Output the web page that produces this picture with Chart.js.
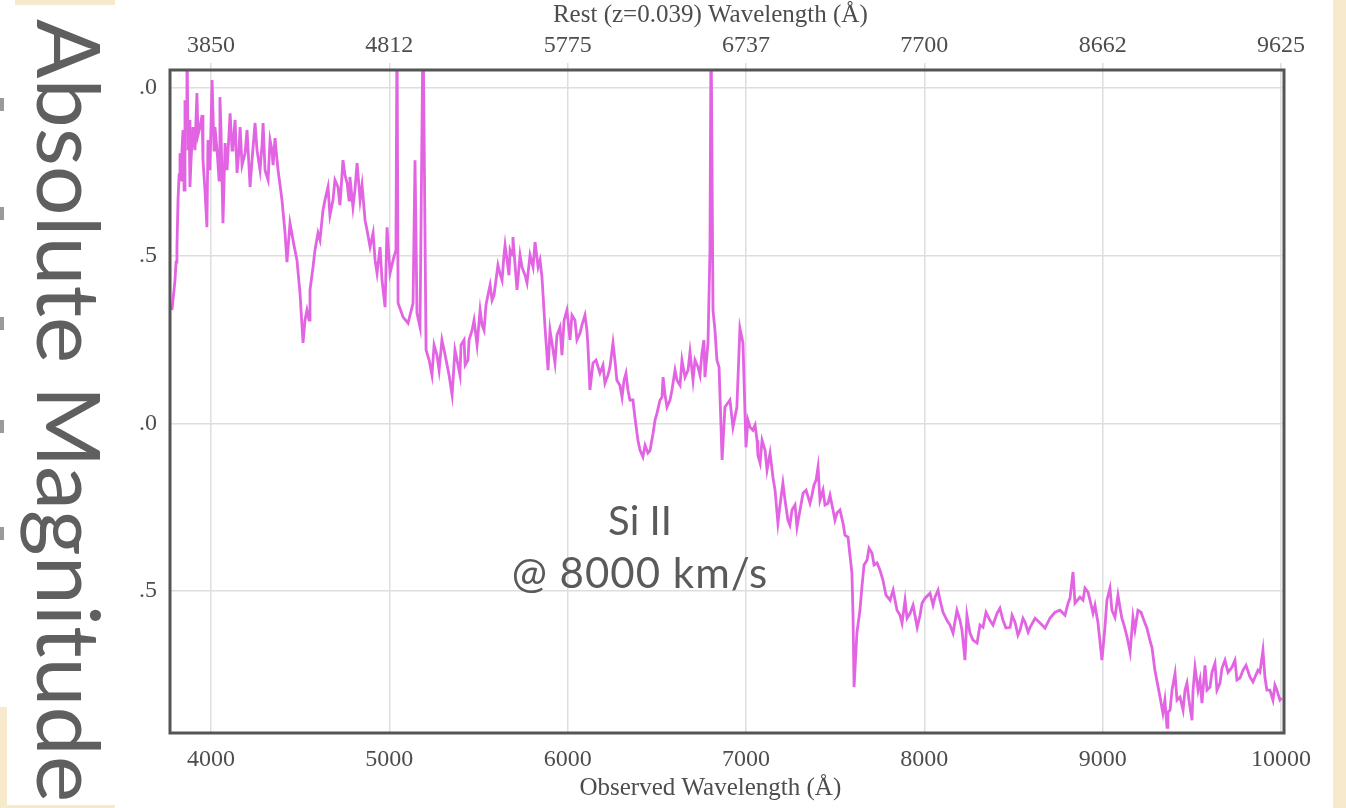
<!DOCTYPE html>
<html>
<head>
<meta charset="utf-8">
<script src="https://cdn.jsdelivr.net/npm/chart.js@4.4.1/dist/chart.umd.min.js"></script>
<style>
  html, body { margin: 0; padding: 0; }
  body { width: 1346px; height: 808px; background: #f6e9cc; position: relative; overflow: hidden; }
  .paper { position: absolute; background: #ffffff; }
  #chartWrap { position: absolute; left: 0; top: 0; width: 1346px; height: 808px; }
  .nick { position: absolute; left: 0; width: 4px; height: 13px; background: #9a9a9a; }
  .note { position: absolute; font-family: Lato, "Open Sans", sans-serif; color: #5a5a5a; white-space: nowrap; }
  #yTitle { left: 0; top: 0; font-size: 88px; line-height: 1; transform-origin: 0 0; transform: translate(115px, 19px) rotate(90deg); color: #5f5f5f; }
</style>
</head>
<body>
<div class="paper" style="left:115px; top:0; width:1218px; height:808px;"></div>
<div class="paper" style="left:0; top:0; width:15px; height:707px;"></div>
<div class="nick" style="top:98px"></div>
<div class="nick" style="top:207px"></div>
<div class="nick" style="top:317px"></div>
<div class="nick" style="top:420px"></div>
<div class="nick" style="top:527px"></div>
<div id="chartWrap"><canvas id="spec" width="1346" height="808"></canvas></div>
<div class="paper" style="left:7px; top:5px; width:131px; height:800px;"></div>
<div class="note" id="yTitle">Absolute Magnitude</div>
<div class="note" style="left:540px; top:496px; width:200px; text-align:center; font-size:40px;">Si II</div>
<div class="note" style="left:490px; top:547px; width:300px; text-align:center; font-size:42px; letter-spacing:1px;">@ 8000 km/s</div>
<script>
// Observed wavelength (Å) of the main spectrum trace
const wavelength = [
  3781, 3798, 3809, 3815, 3826, 3832, 3843, 3854, 3865, 3871,
  3882, 3899, 3921, 3938, 3955, 3977, 3994, 4006, 4022, 4034,
  4050, 4067, 4079, 4107, 4123, 4146, 4163, 4191, 4219, 4247,
  4275, 4292, 4320, 4342, 4359, 4376, 4398, 4415, 4426, 4443,
  4465, 4482, 4499, 4516, 4527, 4538, 4555, 4572, 4600, 4628,
  4656, 4684, 4712, 4740, 4763, 4779, 4796, 4819, 4836, 4864,
  4892, 4909, 4931, 4948, 4976, 4987, 5004, 5021, 5037, 5043,
  5049, 5077, 5105, 5133, 5144, 5155, 5172, 5189, 5206, 5223,
  5251, 5279, 5307, 5335, 5352, 5374, 5402, 5425, 5447, 5475,
  5492, 5509, 5531, 5553, 5576, 5598, 5620, 5643, 5660, 5677,
  5693, 5716, 5744, 5772, 5806, 5817, 5834, 5856, 5873, 5890,
  5912, 5929, 5957, 5980, 5996, 6013, 6041, 6069, 6097, 6114,
  6125, 6142, 6181, 6209, 6237, 6254, 6276, 6305, 6327, 6349,
  6377, 6394, 6422, 6450, 6479, 6501, 6518, 6529, 6535, 6557,
  6585, 6613, 6641, 6658, 6686, 6703, 6731, 6753, 6770, 6787,
  6798, 6804, 6815, 6826, 6837, 6849, 6866, 6882, 6910, 6927,
  6949, 6966, 6983, 7000, 7023, 7039, 7062, 7079, 7107, 7135,
  7151, 7179, 7207, 7235, 7258, 7286, 7320, 7359, 7381, 7404,
  7415, 7460, 7488, 7510, 7544, 7572, 7594, 7600, 7606, 7622,
  7650, 7679, 7707, 7735, 7768, 7808, 7847, 7875, 7892, 7920,
  7960, 7987, 8032, 8060, 8088, 8127, 8161, 8200, 8228, 8256,
  8296, 8329, 8368, 8408, 8441, 8481, 8509, 8537, 8565, 8593,
  8649, 8705, 8761, 8806, 8834, 8845, 8873, 8901, 8929, 8946,
  8974, 8996, 9013, 9041, 9069, 9097, 9120, 9137, 9154, 9170,
  9198, 9237, 9265, 9293, 9322, 9338, 9361, 9378, 9406, 9434,
  9451, 9473, 9501, 9518, 9535, 9557, 9574, 9602, 9630, 9658,
  9686, 9725, 9753, 9787, 9826, 9871, 9899, 9910, 9938, 9955,
  9977, 10005
];

// Relative flux of the main trace
const flux = [
  1.338, 1.427, 1.526, 1.666, 1.806, 1.726, 1.875, 1.964, 2.200, 1.815,
  1.705, 1.884, 1.985, 1.884, 1.785, 1.585, 1.755, 2.024, 1.884, 1.815,
  1.973, 1.597, 1.836, 1.925, 1.824, 1.747, 1.884, 1.806, 1.705, 1.896,
  1.755, 1.896, 1.726, 1.815, 1.851, 1.755, 1.666, 1.568, 1.481, 1.597,
  1.532, 1.487, 1.389, 1.240, 1.308, 1.338, 1.398, 1.466, 1.568, 1.636,
  1.705, 1.666, 1.705, 1.785, 1.717, 1.735, 1.645, 1.776, 1.666, 1.606,
  1.526, 1.568, 1.448, 1.526, 1.347, 1.585, 1.448, 1.487, 1.517, 2.200,
  1.359, 1.317, 1.299, 1.359, 1.785, 1.329, 1.287, 2.200, 1.219, 1.189,
  1.234, 1.159, 1.219, 1.144, 1.085, 1.204, 1.234, 1.174, 1.249, 1.308,
  1.234, 1.338, 1.278, 1.383, 1.368, 1.427, 1.448, 1.502, 1.487, 1.517,
  1.556, 1.398, 1.466, 1.419, 1.466, 1.541, 1.466, 1.436, 1.287, 1.159,
  1.240, 1.180, 1.287, 1.308, 1.338, 1.249, 1.308, 1.269, 1.323, 1.228,
  1.100, 1.180, 1.150, 1.120, 1.168, 1.240, 1.129, 1.078, 1.150, 1.070,
  1.019, 0.950, 0.900, 0.912, 0.971, 1.031, 1.070, 1.078, 1.138, 1.049,
  1.100, 1.129, 1.189, 1.138, 1.213, 1.129, 1.168, 1.210, 1.138, 1.240,
  1.517, 2.200, 1.338, 1.278, 1.189, 1.168, 0.891, 1.049, 1.070, 0.989,
  1.049, 1.284, 1.240, 0.929, 0.989, 0.980, 0.950, 0.882, 0.920, 0.912,
  0.840, 0.703, 0.822, 0.712, 0.742, 0.691, 0.792, 0.762, 0.816, 0.870,
  0.771, 0.762, 0.742, 0.733, 0.703, 0.661, 0.554, 0.434, 0.214, 0.375,
  0.512, 0.593, 0.613, 0.584, 0.533, 0.473, 0.443, 0.405, 0.473, 0.434,
  0.392, 0.464, 0.494, 0.482, 0.473, 0.413, 0.375, 0.413, 0.294, 0.375,
  0.345, 0.392, 0.413, 0.434, 0.413, 0.392, 0.407, 0.384, 0.407, 0.392,
  0.405, 0.420, 0.443, 0.464, 0.557, 0.464, 0.482, 0.509, 0.473, 0.434,
  0.405, 0.294, 0.392, 0.509, 0.422, 0.452, 0.399, 0.363, 0.318, 0.422,
  0.443, 0.405, 0.354, 0.264, 0.184, 0.136, 0.094, 0.145, 0.255, 0.184,
  0.145, 0.226, 0.115, 0.273, 0.205, 0.166, 0.279, 0.214, 0.285, 0.226,
  0.294, 0.273, 0.235, 0.264, 0.244, 0.264, 0.324, 0.244, 0.205, 0.175,
  0.205, 0.181
];

// Additional in-between samples (Å) of the noisy spectrum
const wavelengthFine = [
  3804, 3821, 3837, 3849, 3860, 3877, 3888, 3910, 3927, 3950,
  3966, 3983, 4017, 4045, 4056, 4090, 4118, 4135, 4157, 4174,
  4202, 4230, 4258, 4286, 4303, 4331, 4348, 4365, 4387,
  4550, 4583, 4611, 4639, 4667, 4695, 4723, 4751, 4774, 4807,
  4847, 4875, 4920, 4959,
  5239, 5267, 5295, 5324, 5368, 5396, 5419, 5441, 5464, 5520,
  5542, 5565, 5587, 5609,
  5632, 5649, 5671, 5688, 5705, 5733, 5761, 5789, 5845, 5901,
  5940, 5968,
  6024, 6052, 6080, 6108, 6159, 6198, 6226, 6265, 6293, 6316,
  6338, 6366, 6406, 6434, 6462, 6490, 6546, 6574, 6602, 6630,
  6675, 6714, 6742, 6764, 6776,
  7011, 7051, 7067, 7090, 7118, 7163, 7191, 7219, 7246, 7275,
  7303, 7337, 7370, 7393, 7432, 7443, 7471, 7499, 7527, 7555,
  7639, 7662, 7690, 7718, 7751, 7785, 7825, 7864, 7903, 7937,
  7976, 8004, 8049, 8077, 8105, 8144, 8183, 8211, 8239, 8273,
  8312, 8346, 8385, 8424, 8458, 8492, 8525, 8553, 8582, 8621,
  8677, 8733, 8789, 8817, 8890, 8918, 8957,
  9024, 9052, 9086, 9108, 9181, 9215, 9248, 9277,
  9349, 9366, 9389, 9417, 9462, 9484, 9507, 9546, 9585, 9613,
  9641, 9669, 9703, 9742, 9770, 9804, 9843, 9882, 9921, 9966,
  9994
];

const fluxFine = [
  1.481, 1.741, 1.815, 1.696, 1.934, 1.905, 1.785, 1.815, 1.860, 1.920,
  1.696, 1.845, 1.815, 1.726, 1.875, 1.755, 1.815, 1.905, 1.815, 1.770,
  1.875, 1.785, 1.815, 1.830, 1.755, 1.845, 1.770, 1.815, 1.711,
  1.308, 1.517, 1.547, 1.666, 1.621, 1.726, 1.651, 1.741, 1.666, 1.696,
  1.711, 1.576, 1.487, 1.427,
  1.144, 1.204, 1.249, 1.174, 1.219, 1.144, 1.249, 1.189, 1.278, 1.293,
  1.353, 1.413, 1.383, 1.472,
  1.427, 1.532, 1.442, 1.502, 1.472, 1.502, 1.442, 1.502, 1.487, 1.278,
  1.263, 1.204,
  1.323, 1.249, 1.293, 1.278, 1.189, 1.174, 1.144, 1.189, 1.114, 1.129,
  1.100, 1.070, 0.920, 0.935, 0.920, 1.010, 1.085, 1.070, 1.159, 1.114,
  1.159, 1.189, 1.144, 1.249, 1.174,
  1.010, 0.995, 0.905, 0.950, 0.861, 0.801, 0.757, 0.771, 0.697, 0.757,
  0.742, 0.801, 0.786, 0.831, 0.801, 0.757, 0.786, 0.712, 0.742, 0.667,
  0.443, 0.578, 0.628, 0.578, 0.563, 0.488, 0.503, 0.428, 0.419, 0.458,
  0.428, 0.479, 0.458, 0.503, 0.437, 0.399, 0.443, 0.384, 0.428, 0.354,
  0.399, 0.437, 0.399, 0.449, 0.390, 0.428, 0.369, 0.419, 0.378, 0.419,
  0.390, 0.437, 0.428, 0.479, 0.473, 0.497, 0.458,
  0.473, 0.443, 0.488, 0.419, 0.384, 0.437, 0.390, 0.331,
  0.175, 0.139, 0.205, 0.175, 0.205, 0.175, 0.205, 0.235, 0.205, 0.258,
  0.205, 0.270, 0.258, 0.294, 0.241, 0.279, 0.229, 0.258, 0.205, 0.220,
  0.175
];

// Bottom axis ticks (observed frame) and matching rest-frame labels for z = 0.039
const observedTicks = [4000, 5000, 6000, 7000, 8000, 9000, 10000];
const restTickLabels = ['3850', '4812', '5775', '6737', '7700', '8662', '9625'];
const fluxTicks = [0.5, 1.0, 1.5, 2.0];

const axisTitleTop = 'Rest (z=0.039) Wavelength (\u00C5)';
const axisTitleBottom = 'Observed Wavelength (\u00C5)';

const serif = '"Liberation Serif", "DejaVu Serif", serif';
const labelColor = '#4d4d4d';
const gridColor = '#dedede';

// Merge both sample sets into one wavelength-ordered series
const points = wavelength.map((w, i) => ({ x: w, y: flux[i] }))
  .concat(wavelengthFine.map((w, i) => ({ x: w, y: fluxFine[i] })))
  .sort((a, b) => a.x - b.x);

// Frame around the plot area plus the two axis titles
const framePlugin = {
  id: 'frameAndTitles',
  afterDraw(chart) {
    const { ctx, chartArea: a, scales } = chart;
    ctx.save();
    ctx.strokeStyle = '#555555';
    ctx.lineWidth = 3;
    ctx.strokeRect(a.left, a.top, a.right - a.left, a.bottom - a.top);
    ctx.fillStyle = labelColor;
    ctx.font = '25px ' + serif;
    ctx.textAlign = 'center';
    ctx.textBaseline = 'middle';
    const cx = scales.x.getPixelForValue(6800);
    ctx.fillText(axisTitleTop, cx, 15);
    ctx.fillText(axisTitleBottom, cx, 788);
    ctx.restore();
  }
};

new Chart(document.getElementById('spec'), {
  type: 'line',
  data: {
    datasets: [{
      data: points,
      borderColor: 'rgb(226, 100, 226)',
      borderWidth: 2.8,
      pointRadius: 0,
      tension: 0,
      fill: false
    }]
  },
  options: {
    responsive: false,
    animation: false,
    devicePixelRatio: 1,
    layout: { padding: { left: 0, top: 0, right: 62, bottom: 0 } },
    plugins: { legend: { display: false }, tooltip: { enabled: false } },
    scales: {
      x: {
        type: 'linear',
        position: 'bottom',
        min: 3770,
        max: 10017,
        afterBuildTicks: (s) => { s.ticks = observedTicks.map(v => ({ value: v })); },
        afterFit: (s) => { s.height = 75; },
        grid: { color: gridColor, lineWidth: 1.5, drawTicks: false },
        border: { display: false },
        ticks: { color: labelColor, font: { family: serif, size: 24 }, padding: 12, maxRotation: 0,
                 callback: (v) => String(v) }
      },
      x2: {
        type: 'linear',
        position: 'top',
        min: 3770,
        max: 10017,
        afterBuildTicks: (s) => { s.ticks = observedTicks.map(v => ({ value: v })); },
        afterFit: (s) => { s.height = 70; },
        grid: { color: gridColor, lineWidth: 1.5, drawOnChartArea: false, drawTicks: true, tickLength: 7 },
        border: { display: false },
        ticks: { color: labelColor, font: { family: serif, size: 24 }, padding: 3, maxRotation: 0,
                 callback: (v) => restTickLabels[observedTicks.indexOf(v)] }
      },
      y: {
        type: 'linear',
        position: 'left',
        min: 0.077,
        max: 2.054,
        afterBuildTicks: (s) => { s.ticks = fluxTicks.map(v => ({ value: v })); },
        afterFit: (s) => { s.width = 170; },
        grid: { color: gridColor, lineWidth: 1.5, drawTicks: false },
        border: { display: false },
        ticks: { color: labelColor, font: { family: serif, size: 24 }, padding: 13,
                 callback: (v) => v.toFixed(1) }
      }
    }
  },
  plugins: [framePlugin]
});
</script>
</body>
</html>
